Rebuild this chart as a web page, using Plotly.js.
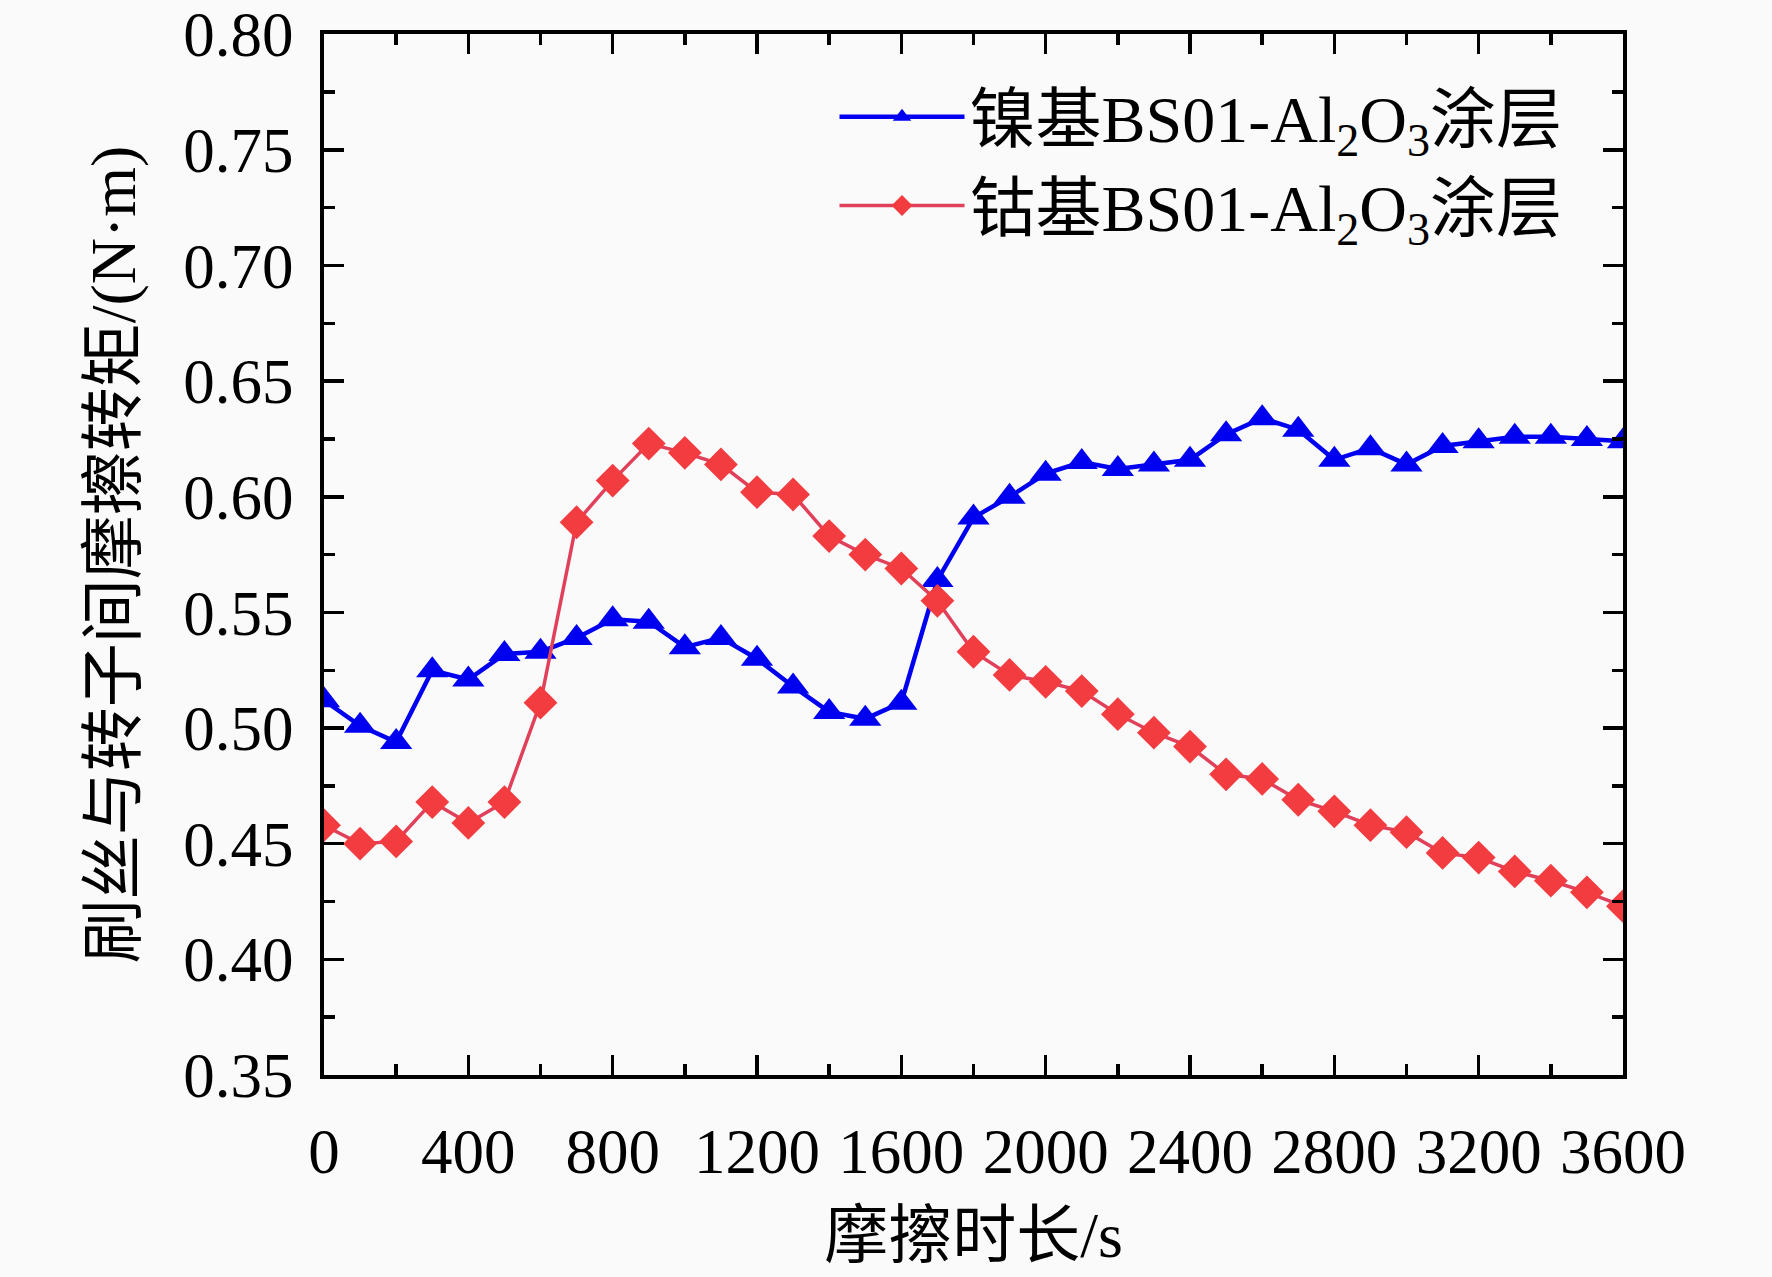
<!DOCTYPE html>
<html>
<head>
<meta charset="utf-8">
<script src="https://cdn.plot.ly/plotly-3.0.1.min.js"></script>
<style>
  body { margin: 0; background: #fafafa; }
  #chart { width: 1772px; height: 1277px; }
</style>
</head>
<body>
<div id="chart"></div>
<script>
// friction time, s
var time = [];
for (var t = 0; t <= 3600; t += 100) time.push(t);

// nickel based BS01-Al2O3 coating
var niTorque = [0.512, 0.501, 0.494, 0.525, 0.521, 0.532, 0.533, 0.539, 0.547, 0.546,
                0.535, 0.539, 0.530, 0.518, 0.507, 0.504, 0.511, 0.564, 0.591, 0.600,
                0.610, 0.615, 0.612, 0.614, 0.616, 0.627, 0.634, 0.629, 0.616, 0.621,
                0.614, 0.622, 0.624, 0.626, 0.626, 0.625, 0.624];

// cobalt based BS01-Al2O3 coating
var coTorque = [0.458, 0.450, 0.451, 0.468, 0.459, 0.468, 0.511, 0.589, 0.607, 0.623,
                0.619, 0.614, 0.602, 0.601, 0.583, 0.575, 0.569, 0.555, 0.533, 0.523,
                0.520, 0.516, 0.506, 0.498, 0.492, 0.480, 0.478, 0.469, 0.464, 0.458,
                0.455, 0.446, 0.444, 0.438, 0.434, 0.429, 0.423];

var names = ['镍基BS01-Al<sub>2</sub>O<sub>3</sub>涂层', '钴基BS01-Al<sub>2</sub>O<sub>3</sub>涂层'];

var font = 'Liberation Serif, Times New Roman, Noto Sans CJK SC, serif';

var traces = [
  {
    x: time, y: niTorque, name: names[0],
    mode: 'lines+markers', type: 'scatter',
    line: {color: '#0000f0', width: 4.5},
    marker: {symbol: 'triangle-up', size: 28, color: '#0000f0'}
  },
  {
    x: time, y: coTorque, name: names[1],
    mode: 'lines+markers', type: 'scatter',
    line: {color: '#e0405a', width: 3.5},
    marker: {symbol: 'diamond', size: 26, color: '#f23c40'}
  }
];

var axisCommon = {
  showline: true, linecolor: '#000', linewidth: 4,
  mirror: 'allticks', ticks: 'inside', ticklen: 20, tickwidth: 3.5,
  tickcolor: '#000', showgrid: false, zeroline: false,
  tickfont: {family: font, size: 63, color: '#000'}
};

var layout = {
  width: 1772, height: 1277,
  paper_bgcolor: '#fafafa', plot_bgcolor: '#fafafa',
  margin: {l: 324, r: 149, t: 34, b: 202},
  font: {family: font, color: '#000'},
  showlegend: true,
  legend: {
    x: 0.393, y: 0.968, xanchor: 'left', yanchor: 'top',
    bgcolor: 'rgba(0,0,0,0)', itemwidth: 125,
    font: {family: font, size: 66, color: '#000'},
    tracegroupgap: 0
  },
  xaxis: Object.assign({}, axisCommon, {
    range: [0, 3600], tick0: 0, dtick: 400,
    minor: {dtick: 200, ticks: 'inside', ticklen: 11, tickwidth: 3.5, tickcolor: '#000'},
    ticklabelstandoff: 18,
    title: {text: '摩擦时长/s', standoff: 28, font: {family: font, size: 64, color: '#000'}}
  }),
  yaxis: Object.assign({}, axisCommon, {
    range: [0.35, 0.8001], tick0: 0.35, dtick: 0.05, tickformat: '.2f',
    minor: {dtick: 0.025, ticks: 'inside', ticklen: 11, tickwidth: 3.5, tickcolor: '#000'},
    ticklabelstandoff: 14,
    title: {text: '刷丝与转子间摩擦转矩/(N·m)', standoff: 28, font: {family: font, size: 64, color: '#000'}}
  })
};

Plotly.newPlot('chart', traces, layout, {displayModeBar: false, staticPlot: true});
</script>
</body>
</html>
